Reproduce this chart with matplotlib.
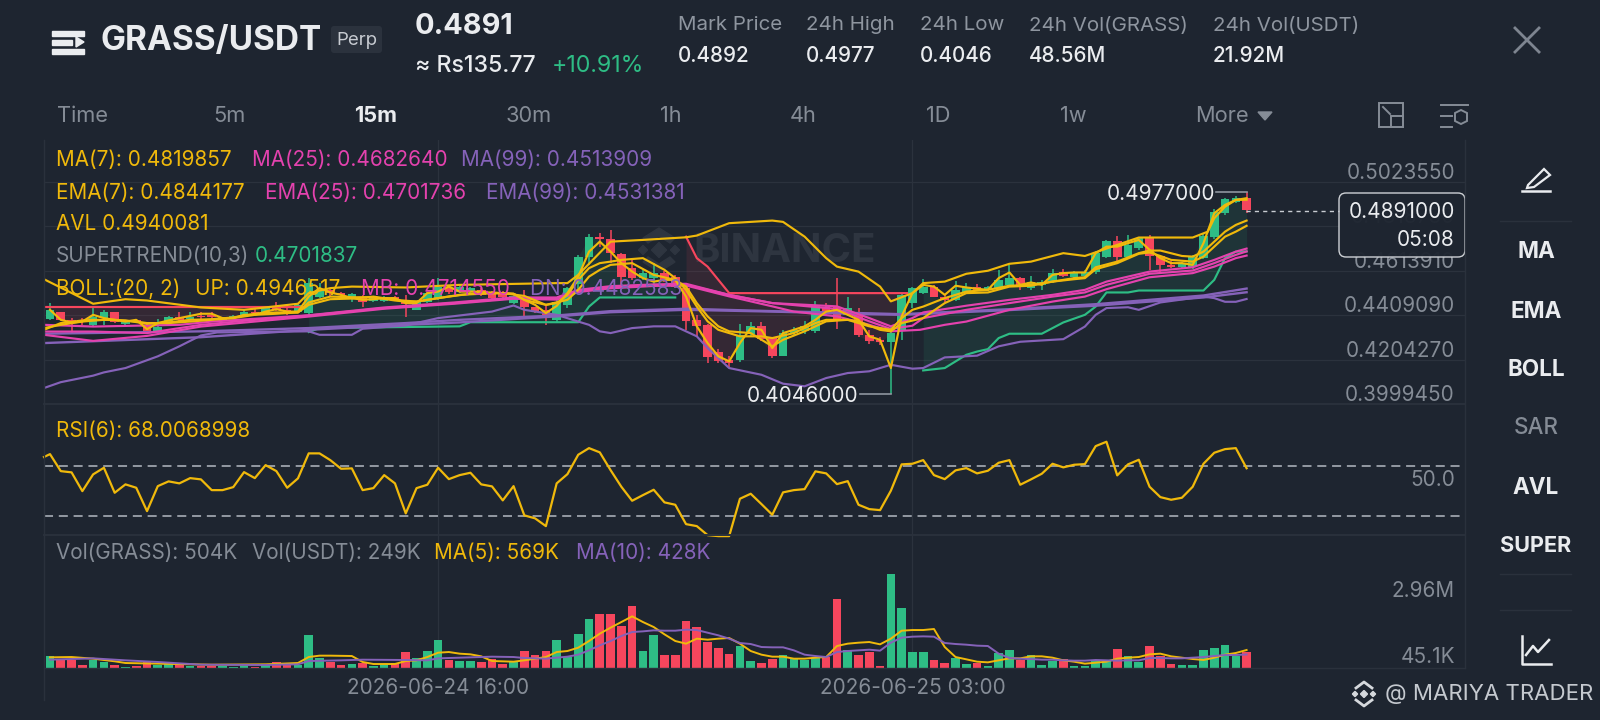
import numpy as np
import matplotlib
matplotlib.use("Agg")
import matplotlib.pyplot as plt
from matplotlib.patches import FancyBboxPatch, Polygon, Rectangle
from matplotlib.transforms import ScaledTranslation

# ---------- data ----------
opens = [.4390,.4421,.4387,.4387,.4364,.4395,.4422,.4369,.4387,.4359,
.4330,.4379,.4402,.4392,.4405,.4410,.4387,.4398,.4402,.4425,
.4418,.4451,.4433,.4425,.4418,.4494,.4525,.4510,.4491,.4491,
.4476,.4476,.4491,.4479,.4433,.4471,.4487,.4533,.4517,.4517,
.4525,.4510,.4510,.4464,.4487,.4445,.4433,.4387,.4455,.4550,
.4678,.4770,.4758,.4691,.4625,.4579,.4579,.4602,.4586,.4533,
.4384,.4364,.4237,.4203,.4203,.4323,.4360,.4303,.4222,.4326,
.4334,.4334,.4448,.4448,.4410,.4425,.4315,.4295,.4283,.4341,
.4464,.4510,.4540,.4494,.4479,.4517,.4540,.4525,.4533,.4548,
.4579,.4533,.4548,.4563,.4605,.4586,.4590,.4609,.4678,.4750,
.4675,.4717,.4763,.4681,.4640,.4632,.4632,.4671,.4767,.4878,
.4931,.4947]
closes = [.4433,.4387,.4379,.4379,.4402,.4425,.4379,.4382,.4379,.4333,
.4356,.4399,.4387,.4402,.4399,.4399,.4398,.4405,.4425,.4418,
.4441,.4433,.4424,.4456,.4555,.4525,.4510,.4502,.4507,.4471,
.4487,.4491,.4479,.4461,.4467,.4510,.4540,.4513,.4540,.4533,
.4502,.4487,.4494,.4497,.4448,.4425,.4410,.4471,.4533,.4678,
.4770,.4758,.4694,.4586,.4579,.4602,.4602,.4571,.4540,.4380,
.4360,.4215,.4196,.4188,.4318,.4357,.4298,.4222,.4326,.4341,
.4357,.4452,.4415,.4387,.4441,.4315,.4288,.4283,.4326,.4502,
.4533,.4540,.4494,.4479,.4525,.4540,.4525,.4537,.4571,.4579,
.4540,.4563,.4563,.4602,.4590,.4605,.4609,.4697,.4750,.4678,
.4732,.4763,.4681,.4640,.4632,.4648,.4678,.4773,.4885,.4942,
.4947,.4891]
highs = [.4464,.4425,.4395,.4395,.4441,.4430,.4425,.4387,.4392,.4372,
.4390,.4403,.4425,.4421,.4421,.4425,.4402,.4410,.4433,.4441,
.4448,.4467,.4441,.4462,.4579,.4556,.4533,.4515,.4510,.4502,
.4490,.4495,.4495,.4502,.4472,.4515,.4579,.4540,.4548,.4540,
.4532,.4518,.4518,.4502,.4525,.4448,.4456,.4479,.4540,.4686,
.4783,.4786,.4801,.4695,.4671,.4617,.4648,.4614,.4595,.4540,
.4410,.4370,.4252,.4219,.4369,.4375,.4375,.4310,.4341,.4353,
.4380,.4476,.4464,.4579,.4494,.4441,.4341,.4307,.4355,.4510,
.4540,.4576,.4548,.4502,.4568,.4556,.4551,.4542,.4617,.4640,
.4585,.4590,.4570,.4620,.4620,.4614,.4617,.4703,.4755,.4773,
.4778,.4767,.4778,.4685,.4660,.4655,.4685,.4780,.4896,.4948,
.4959,.4977]
lows = [.4384,.4384,.4326,.4364,.4356,.4364,.4372,.4364,.4375,.4326,
.4326,.4375,.4379,.4387,.4390,.4390,.4382,.4392,.4398,.4410,
.4412,.4428,.4410,.4418,.4410,.4487,.4491,.4497,.4471,.4448,
.4470,.4470,.4472,.4402,.4430,.4465,.4480,.4505,.4510,.4510,
.4495,.4480,.4488,.4458,.4405,.4418,.4364,.4379,.4440,.4530,
.4640,.4724,.4648,.4548,.4570,.4571,.4540,.4563,.4533,.4341,
.4311,.4188,.4188,.4169,.4193,.4311,.4290,.4211,.4219,.4311,
.4323,.4326,.4405,.4344,.4403,.4310,.4277,.4272,.4046,.4295,
.4440,.4505,.4490,.4471,.4475,.4512,.4520,.4520,.4528,.4542,
.4525,.4525,.4525,.4556,.4583,.4580,.4585,.4600,.4670,.4655,
.4668,.4710,.4617,.4602,.4625,.4625,.4620,.4665,.4760,.4870,
.4925,.4880]

avl = [.4433,.4387,.4375,.4379,.4410,.4395,.4387,.4379,.4387,.4344,
.4372,.4384,.4395,.4405,.4415,.4415,.4395,.4395,.4410,.4410,
.4425,.4436,.4425,.4425,.4494,.4533,.4513,.4502,.4487,.4479,
.4482,.4487,.4487,.4464,.4464,.4510,.4517,.4540,.4517,.4517,
.4517,.4510,.4510,.4507,.4479,.4456,.4418,.4451,.4510,.4586,
.4701,.4747,.4701,.4648,.4609,.4579,.4563,.4571,.4571,.4494,
.4357,.4280,.4219,.4196,.4280,.4349,.4341,.4257,.4326,.4341,
.4357,.4387,.4425,.4433,.4410,.4387,.4311,.4295,.4165,.4403,
.4510,.4548,.4540,.4502,.4544,.4536,.4530,.4525,.4579,.4605,
.4548,.4559,.4548,.4594,.4602,.4605,.4605,.4694,.4724,.4724,
.4740,.4755,.4709,.4671,.4648,.4648,.4640,.4740,.4878,.4916,
.4939,.4940]

ema7_i = [-.56,1,3,4,6,8,9,11,13,15,17,19,21,23,24,26,28,30,32,33,34,35,37,39,41,43,44,46,47,48,49,50,51,52,53,55,57,58,59,60,61,62,63,64,66,67,69,71,72,74,76,78,79,80,81,83,85,87,89,91,93,95,96,97,99,101,102,103,105,106,107,108,109,110,111]
ema7 = [.4341,.4372,.4384,.4387,.4387,.4379,.4372,.4372,.4379,.4387,.4395,.4410,.4415,.4421,.4467,.4494,.4491,.4491,.4476,.4471,.4471,.4479,.4494,.4507,.4513,.4507,.4479,.4456,.4464,.4502,.4571,.4625,.4648,.4655,.4663,.4671,.4617,.4579,.4525,.4448,.4380,.4341,.4326,.4311,.4311,.4303,.4326,.4372,.4387,.4387,.4357,.4341,.4395,.4433,.4448,.4487,.4517,.4525,.4544,.4548,.4563,.4579,.4583,.4629,.4655,.4694,.4706,.4706,.4681,.4678,.4701,.4747,.4793,.4824,.4844]

ma7_i = [-.56,1,3,5,7,9,11,13,15,17,19,21,23,24,26,28,30,32,34,36,38,40,42,44,46,48,49,50,51,52,54,56,58,59,60,61,62,63,65,67,68,70,72,74,75,77,78,79,81,82,83,85,87,89,91,93,95,96,97,99,101,102,103,104,106,107,108,109,110,111]
ma7 = [.4349,.4364,.4379,.4387,.4384,.4369,.4375,.4387,.4390,.4398,.4415,.4421,.4421,.4456,.4482,.4485,.4494,.4479,.4471,.4487,.4502,.4507,.4510,.4497,.4456,.4479,.4525,.4586,.4617,.4640,.4648,.4594,.4571,.4540,.4464,.4403,.4357,.4334,.4326,.4265,.4295,.4334,.4380,.4387,.4380,.4341,.4334,.4372,.4395,.4430,.4464,.4510,.4513,.4540,.4544,.4563,.4574,.4579,.4620,.4648,.4691,.4697,.4681,.4663,.4655,.4678,.4724,.4770,.4793,.4820]

up_i = [-.56,4,7,9,14,18,23,24,26,28,33,38,47,48,49,52,55,59,60,63,67,68,70,72,73,75,77,78,80,81,83,85,87,89,91,94,96,101,106,107.4,108,109,110,111]
up = [.4574,.4461,.4482,.4476,.4444,.4433,.4461,.4510,.4533,.4540,.4536,.4548,.4556,.4556,.4594,.4747,.4755,.4767,.4775,.4832,.4844,.4838,.4770,.4671,.4632,.4609,.4540,.4472,.4510,.4556,.4563,.4599,.4613,.4645,.4655,.4694,.4681,.4766,.4766,.4793,.4855,.4908,.4939,.4947]

dn_i = [-.56,1,4,5,7,10,12,14,15.5,24,25,28,29,33,36,41,43,44,47,49,50,51,52,54,56,58,60,61,63,66,68,70,72,74,76,78,80,81,83,86,88,90,94,96,97,98,100,101,103,107,108,109,110,111]
dn = [.4073,.4100,.4130,.4145,.4165,.4219,.4265,.4315,.4329,.4334,.4318,.4318,.4346,.4361,.4395,.4425,.4453,.4433,.4410,.4379,.4364,.4334,.4326,.4349,.4357,.4357,.4311,.4257,.4165,.4134,.4093,.4081,.4119,.4142,.4150,.4180,.4162,.4165,.4214,.4222,.4265,.4286,.4298,.4356,.4410,.4441,.4445,.4433,.4467,.4494,.4487,.4470,.4470,.4483]

long_i = [-.56,14,24,33,38,47,52,59,67,76,79,89,97,107,111]
ma99 = [.4280,.4307,.4341,.4364,.4375,.4403,.4422,.4433,.4425,.4413,.4410,.4432,.4452,.4490,.4514]
ema99 = [.4323,.4334,.4349,.4372,.4387,.4407,.4427,.4438,.4427,.4417,.4413,.4436,.4459,.4499,.4531]

mb_i = [-.56,4,12,15,24,31,37.5,43,47,49,52,56,59,63,67,73,76,78,80,81,85,89,93,96,98,102,106,108,110,111]
mb = [.4364,.4356,.4364,.4379,.4408,.4444,.4467,.4490,.4490,.4525,.4542,.4550,.4553,.4502,.4464,.4449,.4395,.4357,.4395,.4421,.4452,.4479,.4502,.4525,.4563,.4609,.4629,.4663,.4701,.4715]
ema25_i = [-.56,4,9,14,19,24,31,37.5,43,47,49,52,56,59,63,67,73,76,78,80,81,85,89,93,96,98,102,106,108,110,111]
ema25 = [.4333,.4333,.4326,.4364,.4387,.4407,.4441,.4464,.4487,.4485,.4520,.4537,.4546,.4549,.4502,.4464,.4437,.4380,.4345,.4360,.4395,.4433,.4464,.4494,.4513,.4548,.4599,.4614,.4648,.4686,.4702]
ma25_i = [-.56,4,9,14,19,24,31,37.5,43,47,49,52,56,59,63,67,69,73,76,78,80.7,83,85,89,93,96,98,102,106,108,110,111]
ma25 = [.4318,.4290,.4313,.4356,.4379,.4402,.4438,.4461,.4484,.4480,.4515,.4532,.4543,.4545,.4495,.4449,.4425,.4403,.4364,.4334,.4341,.4364,.4379,.4433,.4471,.4494,.4528,.4583,.4602,.4632,.4671,.4683]

st_red1_i = [-.56,23.5]
st_red1 = [.4445,.4445]
st_green1_i = [24,25,38,39,47,49,50,51,58]
st_green1 = [.4331,.4349,.4357,.4376,.4376,.4376,.4448,.4490,.4490]
st_red2_i = [59,60,61,62,63,79.5]
st_red2 = [.4770,.4671,.4632,.4571,.4510,.4510]
st_green2_i = [81,83,85,86,87,88,89,92,94,96,97,98,100,101,107,108,109,110,111]
st_green2 = [.4154,.4165,.4226,.4241,.4252,.4303,.4323,.4323,.4375,.4410,.4448,.4513,.4513,.4522,.4522,.4571,.4671,.4701,.4702]

rsi_i = [-.56] + list(range(112))
rsi = [77.0,79.3,65.7,64.7,49.7,63.1,68.4,48.4,55.1,52.4,33.7,53.7,57.5,55.9,60.1,59.1,50.5,50.5,52.9,64.9,60.1,
70.5,65.7,52.4,59.9,79.9,79.9,74.5,67.6,67.9,50.5,52.1,62.5,55.9,31.9,52.1,54.8,68.4,59.3,62.5,64.4,
55.1,53.5,42.3,53.7,30.3,27.9,21.7,55.9,63.3,78.8,84.1,80.7,66.5,53.2,42.0,46.5,50.8,40.7,38.8,23.3,
21.7,14.5,13.7,13.7,43.6,47.6,39.3,30.8,48.7,50.5,51.3,65.5,63.9,55.3,57.7,38.8,35.3,34.5,50.0,71.1,
71.6,74.5,62.5,59.3,66.3,68.1,63.9,66.0,72.4,74.5,54.8,59.1,63.6,71.6,68.7,70.8,71.3,85.7,89.2,62.3,
71.1,74.8,53.2,44.9,42.8,44.4,53.2,71.6,80.4,83.3,84.1,68.0]

volume = [379,263,263,84,263,190,84,21,63,211,105,126,126,53,53,63,63,21,53,21,
137,179,105,105,1042,316,190,95,126,168,63,95,147,495,316,537,895,242,211,211,
200,284,137,179,526,421,526,874,358,1064,1548,1695,1716,1316,1948,526,1032,400,421,1495,
1285,821,621,432,684,211,158,274,411,274,242,316,337,2190,558,400,495,74,2959,1906,
495,495,253,168,305,116,168,74,463,579,242,421,95,221,274,53,74,263,211,590,
369,179,705,369,116,105,84,579,642,727,369,504]

vma5_i = [0,2,4,6,7,10,15,20,23,24,25,26,28,29,30,32,33,34,35,36,37,38,39,40,41,43,44,46] + list(range(47, 112))
vma5 = [337,347,295,211,158,137,105,116,158,347,390,390,379,190,126,126,221,242,347,484,505,453,432,369,221,200,242,347,
505,537,642,853,1085,1274,1453,1632,1453,1295,1064,853,769,927,895,927,948,769,537,421,358,358,295,295,326,347,695,769,800,821,748,927,1179,1200,1200,1232,663,347,274,200,179,242,305,305,369,369,326,242,200,137,168,200,295,326,347,432,453,369,326,284,253,326,421,474,569]
vma10_i = [0,4,7,10,14,20,23,24,27,29,33,35,36,38,41,43,44,46,48,49] + list(range(50, 112))
vma10 = [263,305,242,190,105,95,116,221,242,263,253,242,305,326,358,347,316,295,358,421,
558,716,853,1011,1137,1158,1190,1179,1179,1211,1200,1116,1032,927,790,758,663,653,653,558,421,379,347,505,537,558,579,548,800,958,990,1000,990,790,758,737,706,695,453,316,295,284,263,263,242,232,232,253,242,232,242,242,316,316,305,305,326,347,379,411,411,428]

price_ticks = [0.502355, 0.481873, 0.461391, 0.440909, 0.420427, 0.399945]
price_labels = ["0.5023550", "0.4818730", "0.4613910", "0.4409090", "0.4204270", "0.3999450"]
date_ticks = [36, 80]
date_labels = ["2026-06-24 16:00", "2026-06-25 03:00"]
tabs = ["Time", "5m", "15m", "30m", "1h", "4h", "1D", "1w", "More"]
side_items = ["MA", "EMA", "BOLL", "SAR", "AVL", "SUPER"]

# ---------- style ----------
BG = "#1E2530"; GRID = "#2B323D"; SEP = "#2A313C"; AX = "#858C96"; TXT = "#EAECEF"
UP = "#2EBD85"; DOWN = "#F6465D"; YEL = "#F0B90B"; MAG = "#E442AE"; PUR = "#8562B9"
FONT = "Inter"
plt.rcParams["font.family"] = [FONT, "DejaVu Sans"]
W, H = 1600, 720
LABEL = 14.9
fig = plt.figure(figsize=(16, 7.2), dpi=100, facecolor=BG)

def pane(top, bottom, z=2):
    a = fig.add_axes([44 / W, 1 - bottom / H, (1465 - 44) / W, (bottom - top) / H], zorder=z)
    a.patch.set_alpha(0)
    for s in a.spines.values():
        s.set_visible(False)
    a.set_xlim(-0.557, 131.26)
    a.yaxis.tick_right()
    a.tick_params(axis="y", length=0, pad=-7.2, labelsize=LABEL, labelcolor=AX)
    a.tick_params(axis="x", length=0, labelbottom=False)
    a.set_xticks(date_ticks)
    a.grid(axis="x", color=GRID, lw=0.9)
    a.set_axisbelow(True)
    return a

def shift_labels(a, px):
    for t, dy in zip(a.yaxis.get_major_ticks(), px):
        t.label2.set_ha("right")
        t.label2.set_va("center")
        t.label2.set_transform(t.label2.get_transform() + ScaledTranslation(0, dy / 100, fig.dpi_scale_trans))

# background overlay: watermark
back = fig.add_axes([0, 0, 1, 1], zorder=1)
back.set_xlim(0, W); back.set_ylim(H, 0); back.axis("off")
WM = "#2E3540"
for cx, cy, r in [(659, 250, 7.5), (643, 250, 4.5), (675, 250, 4.5)]:
    back.add_patch(Polygon([(cx, cy - r), (cx + r, cy), (cx, cy + r), (cx - r, cy)], color=WM))
for pts in ([(643, 238), (659, 228), (675, 238), (670, 243), (659, 236), (648, 243)],
            [(643, 262), (659, 272), (675, 262), (670, 257), (659, 264), (648, 257)]):
    back.add_patch(Polygon(pts, color=WM))
back.text(693, 252, "BINANCE", color=WM, fontsize=28.8, fontweight="bold", va="center", ha="left")

# ---------- main pane ----------
ax = pane(140, 404)
ax.set_ylim(0.399945, 0.5215)
ax.set_yticks(price_ticks, price_labels)
ax.grid(axis="y", color=GRID, lw=0.9)
shift_labels(ax, [9] * 6)

idx = np.arange(len(closes))
o, c, hi, lo = map(np.array, (opens, closes, highs, lows))
colors = [UP if cc >= oo else DOWN for oo, cc in zip(o, c)]

# supertrend shading
def shade(xs, ys, col, start, end):
    m = (idx >= start) & (idx <= end)
    ax.fill_between(idx[m], np.interp(idx[m], xs, ys), c[m], color=col, alpha=0.10, lw=0, zorder=1)
shade(st_red1_i, st_red1, DOWN, 0, 23)
shade(st_green1_i, st_green1, UP, 24, 58)
shade(st_red2_i, st_red2, DOWN, 59, 79)
shade(st_green2_i, st_green2, UP, 81, 111)

ax.vlines(idx, lo, hi, colors=colors, lw=1.1, zorder=2)
ax.bar(idx, np.maximum(np.abs(c - o), 0.0003), bottom=np.minimum(o, c), width=0.8, color=colors, zorder=2.1)

def ln(x, y, col, lw=1.55, z=3):
    ax.plot(x, y, color=col, lw=lw, zorder=z, solid_joinstyle="round")

ln(st_red1_i, st_red1, DOWN); ln(st_green1_i, st_green1, UP)
ln(st_red2_i, st_red2, DOWN); ln(st_green2_i, st_green2, UP)
ln(dn_i, dn, PUR)
ln(long_i, ma99, PUR, 1.7); ln(long_i, ema99, PUR, 1.7)
ln(ma25_i, ma25, MAG); ln(ema25_i, ema25, MAG); ln(mb_i, mb, MAG)
ln(up_i, up, YEL); ln(ma7_i, ma7, YEL); ln(ema7_i, ema7, YEL); ln(idx, avl, YEL)

# high and low leaders
ax.plot([108.2, 111], [0.4977, 0.4977], color="#8E959F", lw=1.2, zorder=4)
ax.plot([75.1, 78], [0.4046, 0.4046], color="#8E959F", lw=1.2, zorder=4)
ax.annotate("0.4977000", xy=(108.2, 0.4977), xytext=(-1, -2), textcoords="offset pixels",
            color=TXT, fontsize=15, ha="right", va="center", zorder=6)
ax.annotate("0.4046000", xy=(75.1, 0.4046), xytext=(-1, -2), textcoords="offset pixels",
            color=TXT, fontsize=15, ha="right", va="center", zorder=6)

# ---------- RSI pane ----------
ax2 = pane(404, 535)
ax2.set_ylim(14.6, 119.4)
ax2.set_yticks([50], ["50.0"])
shift_labels(ax2, [11])
for lvl in (70, 30):
    ax2.axhline(lvl, color="#9DA3AC", lw=1.3, dashes=(5, 3.2), zorder=2)
ax2.plot(rsi_i, rsi, color=YEL, lw=1.6, zorder=3, clip_on=False)

# ---------- volume pane ----------
ax3 = pane(535, 668)
ax3.set_ylim(0, 4203)
ax3.set_yticks([2960, 45.1], ["2.96M", "45.1K"])
shift_labels(ax3, [-17, 10])
ax3.tick_params(axis="x", labelbottom=True, pad=7.5, labelsize=LABEL, labelcolor=AX)
ax3.set_xticklabels(date_labels)
ax3.bar(idx, volume, width=0.8, color=colors, zorder=2)
ax3.plot(vma5_i, vma5, color=YEL, lw=1.4, zorder=3)
ax3.plot(vma10_i, vma10, color=PUR, lw=1.4, zorder=3.1)

# ---------- front overlay ----------
ui = fig.add_axes([0, 0, 1, 1], zorder=5)
ui.set_xlim(0, W); ui.set_ylim(H, 0); ui.axis("off")

def T(x, y, s, col=AX, size=LABEL, ha="left", w="normal"):
    ui.text(x, y + 2, s, color=col, fontsize=size, ha=ha, va="center", fontweight=w)

# pane frame
for x in (44, 1465):
    ui.plot([x, x], [140, 700 if x == 44 else 668], color=SEP, lw=1)
for y, lw in ((404, 1.4), (535, 1.4), (668, 1)):
    ui.plot([44, 1465], [y, y], color=SEP, lw=lw)

# header
for y, x1 in ((33, 84), (42, 72), (51, 84)):
    ui.add_patch(Rectangle((52, y - 2), x1 - 52, 4.5, color=TXT))
ui.add_patch(Polygon([(76, 37), (84, 42), (76, 47)], color=TXT))
T(100, 39, "GRASS/USDT", TXT, 24, w="bold")
ui.add_patch(FancyBboxPatch((331, 26), 51, 27, boxstyle="round,pad=0,rounding_size=3", fc="#2B323D", ec="none"))
T(356.5, 38.5, "Perp", "#C7CBD1", 13.4, ha="center")
T(415, 24, "0.4891", TXT, 20.8, w="bold")
T(415, 63.5, "≈ Rs135.77", TXT, 16.6, w="medium")
T(552, 63.5, "+10.91%", UP, 16.7)
for x, head, val in [(678, "Mark Price", "0.4892"), (806, "24h High", "0.4977"), (920, "24h Low", "0.4046"),
                     (1029, "24h Vol(GRASS)", "48.56M"), (1213, "24h Vol(USDT)", "21.92M")]:
    T(x, 23.5, head, "#8E959F", 14.8)
    T(x, 54.5, val, TXT, 14.9, w="medium")
ui.plot([1515, 1539], [28, 52], color="#7E8590", lw=2)
ui.plot([1515, 1539], [52, 28], color="#7E8590", lw=2)

# tabs
for x, s in zip([82.6, 229.6, 375.5, 528.6, 670.4, 803, 937.8, 1073, 1222], tabs):
    if s == "15m":
        T(x, 114.5, s, TXT, 15.7, ha="center", w="bold")
    else:
        T(x, 114.5, s, AX, 15.7, ha="center")
ui.add_patch(Polygon([(1258, 112), (1272, 112), (1265, 120)], color=AX))
ui.add_patch(Rectangle((1379, 103), 24, 24, fc="none", ec=AX, lw=1.4))
ui.add_patch(Rectangle((1391, 116), 12, 11, fc=BG, ec=AX, lw=1.4))
ui.plot([1383, 1390], [107, 114], color=AX, lw=1.4)
for y, x0, x1 in ((105, 1441, 1468), (116, 1441, 1452), (127, 1441, 1452)):
    ui.plot([x0, x1], [y, y], color=AX, lw=1.4)
ui.add_patch(Polygon([(1461, 110), (1467, 113), (1467, 121), (1461, 124), (1455, 121), (1455, 113)], fc=BG, ec=AX, lw=1.4))

# sidebar
for y in (221, 574, 610):
    ui.plot([1500, 1571], [y, y], color=SEP, lw=1)
for y, s in zip([249.5, 309.5, 367.5, 426.5, 486.5, 544.5], side_items):
    T(1536, y, s, "#848B95" if s == "SAR" else TXT, 16.2 if s != "SUPER" else 15.6, ha="center", w="medium" if s == "SAR" else "bold")
ui.plot([1522, 1550], [191, 191], color=TXT, lw=1.8)
ui.add_patch(Polygon([(1528, 185), (1544, 169), (1550, 175), (1534, 187), (1527, 188)], fc="none", ec=TXT, lw=1.6))
ui.plot([1522, 1522, 1551], [636, 664, 664], color=TXT, lw=1.8)
ui.plot([1526, 1533, 1538, 1549], [655, 646, 652, 640], color=TXT, lw=1.8)

# legends
rows = [
    (158, [(55.5, "MA(7): 0.4819857", YEL), (252, "MA(25): 0.4682640", MAG), (461, "MA(99): 0.4513909", PUR)]),
    (191, [(55.5, "EMA(7): 0.4844177", YEL), (265, "EMA(25): 0.4701736", MAG), (486, "EMA(99): 0.4531381", PUR)]),
    (222.5, [(55.5, "AVL 0.4940081", YEL)]),
    (254, [(55.5, "SUPERTREND(10,3)", AX), (255, "0.4701837", UP)]),
    (287, [(55.5, "BOLL:(20, 2)", YEL), (195, "UP: 0.4946517", YEL), (361, "MB: 0.4714550", MAG), (530, "DN: 0.4482583", PUR)]),
    (428.5, [(55.5, "RSI(6): 68.0068998", YEL)]),
    (551, [(55.5, "Vol(GRASS): 504K", AX), (251.5, "Vol(USDT): 249K", AX), (434, "MA(5): 569K", YEL), (576, "MA(10): 428K", PUR)]),
]
for y, items in rows:
    for x, s, col in items:
        T(x, y, s, col)

# last-price box and dashed leader
ui.plot([1246, 1339], [210.7, 210.7], color="#C8CCD2", lw=1, dashes=(3, 3))
ui.add_patch(FancyBboxPatch((1339, 193), 126, 64, boxstyle="round,pad=0,rounding_size=7",
                            fc=BG, ec="#D5D8DC", lw=1, alpha=0.96))
T(1455, 210, "0.4891000", TXT, 15, ha="right")
T(1455, 237.5, "05:08", TXT, 15, ha="right")

# footer watermark
for cx, cy, r in [(1364, 694, 3.5), (1355, 694, 2.6), (1373, 694, 2.6)]:
    ui.add_patch(Polygon([(cx, cy - r), (cx + r, cy), (cx, cy + r), (cx - r, cy)], color="#D6D9DD"))
ui.plot([1356, 1364, 1372], [688, 682, 688], color="#D6D9DD", lw=2)
ui.plot([1356, 1364, 1372], [700, 706, 700], color="#D6D9DD", lw=2)
T(1385, 692, "@ MARIYA TRADER", "#C5C9CF", 16)

fig.savefig("out.png", dpi=100, facecolor=BG)
